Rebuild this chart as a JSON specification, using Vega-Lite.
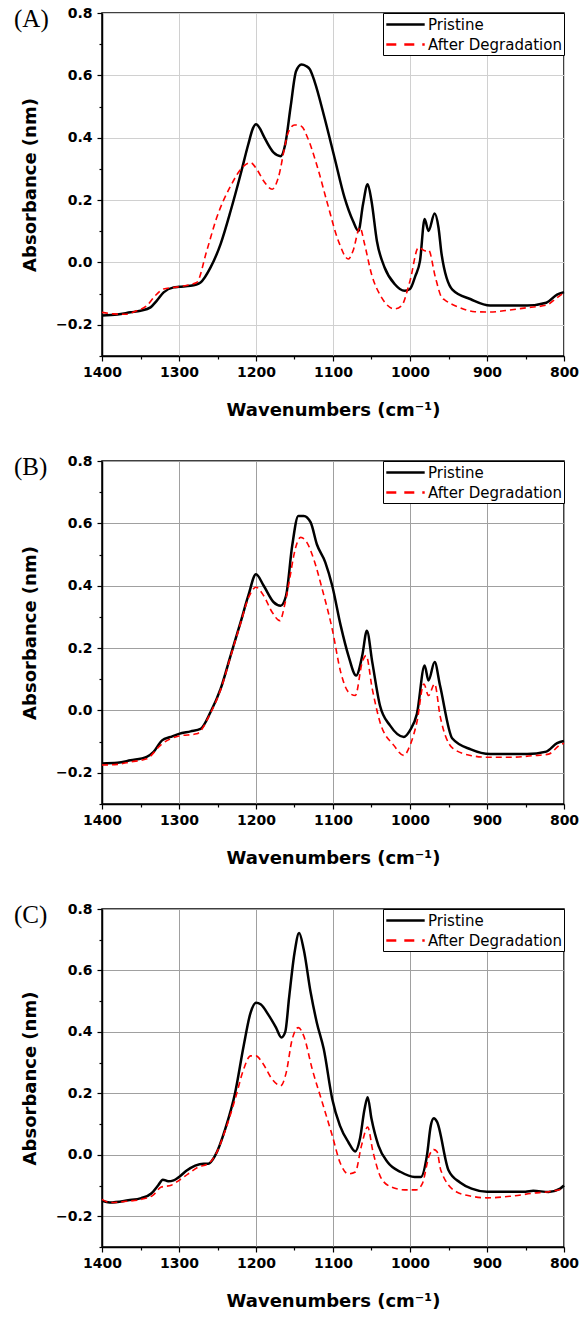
{
  "$schema": "https://vega.github.io/schema/vega-lite/v6.json",
  "background": "white",
  "padding": {"left": 13, "top": 5, "right": 0, "bottom": 0},
  "config": {
    "font": "DejaVu Sans",
    "view": {"stroke": "black", "strokeWidth": 1.5},
    "axis": {
      "labelFont": "DejaVu Sans", "labelFontWeight": "bold", "labelFontSize": 14, "labelColor": "black",
      "titleFont": "DejaVu Sans", "titleFontWeight": "bold", "titleFontSize": 18, "titleColor": "black",
      "domainColor": "black", "domainWidth": 1.5, "tickColor": "black", "tickWidth": 1.2,
      "labelFlush": false, "labelOverlap": false
    },
    "legend": {"labelFont": "DejaVu Sans", "labelFontSize": 15, "labelColor": "black"},
    "concat": {"spacing": 33}
  },
  "datasets": {
    "A": [
      {"series": "Pristine", "wn": 1400, "a": -0.170}, {"series": "Pristine", "wn": 1380, "a": -0.167}, {"series": "Pristine", "wn": 1363, "a": -0.160}, {"series": "Pristine", "wn": 1350, "a": -0.155}, {"series": "Pristine", "wn": 1337, "a": -0.144}, {"series": "Pristine", "wn": 1329, "a": -0.123}, {"series": "Pristine", "wn": 1320, "a": -0.096}, {"series": "Pristine", "wn": 1307, "a": -0.080}, {"series": "Pristine", "wn": 1300, "a": -0.078}, {"series": "Pristine", "wn": 1285, "a": -0.075}, {"series": "Pristine", "wn": 1272, "a": -0.064}, {"series": "Pristine", "wn": 1259, "a": -0.016}, {"series": "Pristine", "wn": 1246, "a": 0.059}, {"series": "Pristine", "wn": 1233, "a": 0.165}, {"series": "Pristine", "wn": 1220, "a": 0.283}, {"series": "Pristine", "wn": 1210, "a": 0.379}, {"series": "Pristine", "wn": 1204, "a": 0.430}, {"series": "Pristine", "wn": 1200, "a": 0.443}, {"series": "Pristine", "wn": 1195, "a": 0.430}, {"series": "Pristine", "wn": 1190, "a": 0.405}, {"series": "Pristine", "wn": 1177, "a": 0.352}, {"series": "Pristine", "wn": 1168, "a": 0.341}, {"series": "Pristine", "wn": 1162, "a": 0.379}, {"series": "Pristine", "wn": 1155, "a": 0.500}, {"series": "Pristine", "wn": 1148, "a": 0.613}, {"series": "Pristine", "wn": 1141, "a": 0.635}, {"series": "Pristine", "wn": 1135, "a": 0.630}, {"series": "Pristine", "wn": 1130, "a": 0.619}, {"series": "Pristine", "wn": 1124, "a": 0.581}, {"series": "Pristine", "wn": 1111, "a": 0.464}, {"series": "Pristine", "wn": 1098, "a": 0.336}, {"series": "Pristine", "wn": 1085, "a": 0.208}, {"series": "Pristine", "wn": 1074, "a": 0.133}, {"series": "Pristine", "wn": 1067, "a": 0.101}, {"series": "Pristine", "wn": 1061, "a": 0.187}, {"series": "Pristine", "wn": 1055, "a": 0.251}, {"series": "Pristine", "wn": 1050, "a": 0.197}, {"series": "Pristine", "wn": 1043, "a": 0.069}, {"series": "Pristine", "wn": 1033, "a": -0.016}, {"series": "Pristine", "wn": 1020, "a": -0.069}, {"series": "Pristine", "wn": 1007, "a": -0.091}, {"series": "Pristine", "wn": 1000, "a": -0.085}, {"series": "Pristine", "wn": 993, "a": -0.043}, {"series": "Pristine", "wn": 987, "a": 0.005}, {"series": "Pristine", "wn": 981, "a": 0.139}, {"series": "Pristine", "wn": 976, "a": 0.101}, {"series": "Pristine", "wn": 968, "a": 0.157}, {"series": "Pristine", "wn": 963, "a": 0.112}, {"series": "Pristine", "wn": 959, "a": 0.027}, {"series": "Pristine", "wn": 945, "a": -0.087}, {"series": "Pristine", "wn": 921, "a": -0.118}, {"series": "Pristine", "wn": 896, "a": -0.138}, {"series": "Pristine", "wn": 848, "a": -0.138}, {"series": "Pristine", "wn": 823, "a": -0.129}, {"series": "Pristine", "wn": 809, "a": -0.103}, {"series": "Pristine", "wn": 800, "a": -0.095},
      {"series": "After Degradation", "wn": 1400, "a": -0.160}, {"series": "After Degradation", "wn": 1385, "a": -0.165}, {"series": "After Degradation", "wn": 1370, "a": -0.166}, {"series": "After Degradation", "wn": 1355, "a": -0.155}, {"series": "After Degradation", "wn": 1342, "a": -0.139}, {"series": "After Degradation", "wn": 1331, "a": -0.107}, {"series": "After Degradation", "wn": 1320, "a": -0.085}, {"series": "After Degradation", "wn": 1300, "a": -0.078}, {"series": "After Degradation", "wn": 1277, "a": -0.064}, {"series": "After Degradation", "wn": 1264, "a": 0.037}, {"series": "After Degradation", "wn": 1251, "a": 0.144}, {"series": "After Degradation", "wn": 1233, "a": 0.245}, {"series": "After Degradation", "wn": 1216, "a": 0.309}, {"series": "After Degradation", "wn": 1207, "a": 0.320}, {"series": "After Degradation", "wn": 1199, "a": 0.299}, {"series": "After Degradation", "wn": 1190, "a": 0.261}, {"series": "After Degradation", "wn": 1179, "a": 0.235}, {"series": "After Degradation", "wn": 1171, "a": 0.272}, {"series": "After Degradation", "wn": 1162, "a": 0.379}, {"series": "After Degradation", "wn": 1159, "a": 0.411}, {"series": "After Degradation", "wn": 1150, "a": 0.441}, {"series": "After Degradation", "wn": 1141, "a": 0.437}, {"series": "After Degradation", "wn": 1133, "a": 0.400}, {"series": "After Degradation", "wn": 1120, "a": 0.304}, {"series": "After Degradation", "wn": 1107, "a": 0.187}, {"series": "After Degradation", "wn": 1093, "a": 0.069}, {"series": "After Degradation", "wn": 1080, "a": 0.011}, {"series": "After Degradation", "wn": 1074, "a": 0.037}, {"series": "After Degradation", "wn": 1065, "a": 0.112}, {"series": "After Degradation", "wn": 1059, "a": 0.059}, {"series": "After Degradation", "wn": 1050, "a": -0.037}, {"series": "After Degradation", "wn": 1037, "a": -0.112}, {"series": "After Degradation", "wn": 1020, "a": -0.149}, {"series": "After Degradation", "wn": 1011, "a": -0.139}, {"series": "After Degradation", "wn": 1000, "a": -0.059}, {"series": "After Degradation", "wn": 989, "a": 0.048}, {"series": "After Degradation", "wn": 980, "a": 0.037}, {"series": "After Degradation", "wn": 976, "a": 0.040}, {"series": "After Degradation", "wn": 967, "a": -0.048}, {"series": "After Degradation", "wn": 959, "a": -0.112}, {"series": "After Degradation", "wn": 955, "a": -0.120}, {"series": "After Degradation", "wn": 935, "a": -0.145}, {"series": "After Degradation", "wn": 916, "a": -0.158}, {"series": "After Degradation", "wn": 896, "a": -0.159}, {"series": "After Degradation", "wn": 872, "a": -0.153}, {"series": "After Degradation", "wn": 848, "a": -0.145}, {"series": "After Degradation", "wn": 823, "a": -0.137}, {"series": "After Degradation", "wn": 809, "a": -0.113}, {"series": "After Degradation", "wn": 800, "a": -0.097}
    ],
    "B": [
      {"series": "Pristine", "wn": 1400, "a": -0.170}, {"series": "Pristine", "wn": 1380, "a": -0.168}, {"series": "Pristine", "wn": 1363, "a": -0.160}, {"series": "Pristine", "wn": 1342, "a": -0.149}, {"series": "Pristine", "wn": 1333, "a": -0.133}, {"series": "Pristine", "wn": 1322, "a": -0.096}, {"series": "Pristine", "wn": 1311, "a": -0.085}, {"series": "Pristine", "wn": 1300, "a": -0.075}, {"series": "Pristine", "wn": 1285, "a": -0.067}, {"series": "Pristine", "wn": 1272, "a": -0.059}, {"series": "Pristine", "wn": 1259, "a": -0.005}, {"series": "Pristine", "wn": 1246, "a": 0.069}, {"series": "Pristine", "wn": 1233, "a": 0.176}, {"series": "Pristine", "wn": 1220, "a": 0.283}, {"series": "Pristine", "wn": 1210, "a": 0.368}, {"series": "Pristine", "wn": 1200, "a": 0.437}, {"series": "Pristine", "wn": 1190, "a": 0.400}, {"series": "Pristine", "wn": 1177, "a": 0.347}, {"series": "Pristine", "wn": 1168, "a": 0.336}, {"series": "Pristine", "wn": 1161, "a": 0.368}, {"series": "Pristine", "wn": 1153, "a": 0.528}, {"series": "Pristine", "wn": 1145, "a": 0.624}, {"series": "Pristine", "wn": 1138, "a": 0.624}, {"series": "Pristine", "wn": 1129, "a": 0.603}, {"series": "Pristine", "wn": 1121, "a": 0.533}, {"series": "Pristine", "wn": 1110, "a": 0.475}, {"series": "Pristine", "wn": 1101, "a": 0.400}, {"series": "Pristine", "wn": 1090, "a": 0.272}, {"series": "Pristine", "wn": 1080, "a": 0.176}, {"series": "Pristine", "wn": 1070, "a": 0.112}, {"series": "Pristine", "wn": 1062, "a": 0.176}, {"series": "Pristine", "wn": 1056, "a": 0.256}, {"series": "Pristine", "wn": 1049, "a": 0.155}, {"series": "Pristine", "wn": 1039, "a": 0.016}, {"series": "Pristine", "wn": 1026, "a": -0.048}, {"series": "Pristine", "wn": 1008, "a": -0.085}, {"series": "Pristine", "wn": 1000, "a": -0.064}, {"series": "Pristine", "wn": 991, "a": -0.011}, {"series": "Pristine", "wn": 981, "a": 0.144}, {"series": "Pristine", "wn": 976, "a": 0.096}, {"series": "Pristine", "wn": 968, "a": 0.155}, {"series": "Pristine", "wn": 961, "a": 0.080}, {"series": "Pristine", "wn": 945, "a": -0.090}, {"series": "Pristine", "wn": 921, "a": -0.125}, {"series": "Pristine", "wn": 896, "a": -0.140}, {"series": "Pristine", "wn": 848, "a": -0.140}, {"series": "Pristine", "wn": 823, "a": -0.132}, {"series": "Pristine", "wn": 809, "a": -0.105}, {"series": "Pristine", "wn": 800, "a": -0.098},
      {"series": "After Degradation", "wn": 1400, "a": -0.175}, {"series": "After Degradation", "wn": 1380, "a": -0.173}, {"series": "After Degradation", "wn": 1363, "a": -0.165}, {"series": "After Degradation", "wn": 1342, "a": -0.155}, {"series": "After Degradation", "wn": 1322, "a": -0.107}, {"series": "After Degradation", "wn": 1300, "a": -0.082}, {"series": "After Degradation", "wn": 1277, "a": -0.075}, {"series": "After Degradation", "wn": 1259, "a": -0.008}, {"series": "After Degradation", "wn": 1246, "a": 0.066}, {"series": "After Degradation", "wn": 1233, "a": 0.173}, {"series": "After Degradation", "wn": 1220, "a": 0.280}, {"series": "After Degradation", "wn": 1210, "a": 0.360}, {"series": "After Degradation", "wn": 1200, "a": 0.395}, {"series": "After Degradation", "wn": 1190, "a": 0.368}, {"series": "After Degradation", "wn": 1179, "a": 0.315}, {"series": "After Degradation", "wn": 1169, "a": 0.288}, {"series": "After Degradation", "wn": 1162, "a": 0.347}, {"series": "After Degradation", "wn": 1155, "a": 0.440}, {"series": "After Degradation", "wn": 1151, "a": 0.496}, {"series": "After Degradation", "wn": 1142, "a": 0.555}, {"series": "After Degradation", "wn": 1134, "a": 0.539}, {"series": "After Degradation", "wn": 1125, "a": 0.485}, {"series": "After Degradation", "wn": 1114, "a": 0.389}, {"series": "After Degradation", "wn": 1101, "a": 0.261}, {"series": "After Degradation", "wn": 1090, "a": 0.123}, {"series": "After Degradation", "wn": 1080, "a": 0.059}, {"series": "After Degradation", "wn": 1071, "a": 0.048}, {"series": "After Degradation", "wn": 1062, "a": 0.155}, {"series": "After Degradation", "wn": 1057, "a": 0.176}, {"series": "After Degradation", "wn": 1049, "a": 0.069}, {"series": "After Degradation", "wn": 1039, "a": -0.037}, {"series": "After Degradation", "wn": 1021, "a": -0.112}, {"series": "After Degradation", "wn": 1008, "a": -0.144}, {"series": "After Degradation", "wn": 1000, "a": -0.112}, {"series": "After Degradation", "wn": 991, "a": -0.037}, {"series": "After Degradation", "wn": 982, "a": 0.085}, {"series": "After Degradation", "wn": 976, "a": 0.048}, {"series": "After Degradation", "wn": 968, "a": 0.085}, {"series": "After Degradation", "wn": 961, "a": -0.016}, {"series": "After Degradation", "wn": 945, "a": -0.120}, {"series": "After Degradation", "wn": 920, "a": -0.145}, {"series": "After Degradation", "wn": 900, "a": -0.150}, {"series": "After Degradation", "wn": 870, "a": -0.150}, {"series": "After Degradation", "wn": 840, "a": -0.145}, {"series": "After Degradation", "wn": 820, "a": -0.140}, {"series": "After Degradation", "wn": 805, "a": -0.110}, {"series": "After Degradation", "wn": 800, "a": -0.105}
    ],
    "C": [
      {"series": "Pristine", "wn": 1400, "a": -0.150}, {"series": "Pristine", "wn": 1390, "a": -0.155}, {"series": "Pristine", "wn": 1366, "a": -0.148}, {"series": "Pristine", "wn": 1349, "a": -0.141}, {"series": "Pristine", "wn": 1336, "a": -0.126}, {"series": "Pristine", "wn": 1327, "a": -0.099}, {"series": "Pristine", "wn": 1321, "a": -0.081}, {"series": "Pristine", "wn": 1314, "a": -0.086}, {"series": "Pristine", "wn": 1307, "a": -0.083}, {"series": "Pristine", "wn": 1300, "a": -0.072}, {"series": "Pristine", "wn": 1290, "a": -0.051}, {"series": "Pristine", "wn": 1279, "a": -0.035}, {"series": "Pristine", "wn": 1268, "a": -0.029}, {"series": "Pristine", "wn": 1262, "a": -0.029}, {"series": "Pristine", "wn": 1253, "a": -0.002}, {"series": "Pristine", "wn": 1240, "a": 0.084}, {"series": "Pristine", "wn": 1227, "a": 0.203}, {"series": "Pristine", "wn": 1216, "a": 0.355}, {"series": "Pristine", "wn": 1207, "a": 0.463}, {"series": "Pristine", "wn": 1200, "a": 0.495}, {"series": "Pristine", "wn": 1194, "a": 0.490}, {"series": "Pristine", "wn": 1183, "a": 0.452}, {"series": "Pristine", "wn": 1174, "a": 0.414}, {"series": "Pristine", "wn": 1167, "a": 0.382}, {"series": "Pristine", "wn": 1162, "a": 0.400}, {"series": "Pristine", "wn": 1157, "a": 0.512}, {"series": "Pristine", "wn": 1150, "a": 0.657}, {"series": "Pristine", "wn": 1144, "a": 0.722}, {"series": "Pristine", "wn": 1138, "a": 0.668}, {"series": "Pristine", "wn": 1129, "a": 0.528}, {"series": "Pristine", "wn": 1121, "a": 0.430}, {"series": "Pristine", "wn": 1112, "a": 0.344}, {"series": "Pristine", "wn": 1101, "a": 0.182}, {"series": "Pristine", "wn": 1091, "a": 0.095}, {"series": "Pristine", "wn": 1080, "a": 0.041}, {"series": "Pristine", "wn": 1071, "a": 0.011}, {"series": "Pristine", "wn": 1065, "a": 0.052}, {"series": "Pristine", "wn": 1059, "a": 0.149}, {"series": "Pristine", "wn": 1055, "a": 0.187}, {"series": "Pristine", "wn": 1050, "a": 0.117}, {"series": "Pristine", "wn": 1041, "a": 0.030}, {"series": "Pristine", "wn": 1029, "a": -0.024}, {"series": "Pristine", "wn": 1012, "a": -0.056}, {"series": "Pristine", "wn": 994, "a": -0.072}, {"series": "Pristine", "wn": 986, "a": -0.072}, {"series": "Pristine", "wn": 978, "a": -0.002}, {"series": "Pristine", "wn": 973, "a": 0.095}, {"series": "Pristine", "wn": 969, "a": 0.119}, {"series": "Pristine", "wn": 965, "a": 0.108}, {"series": "Pristine", "wn": 950, "a": -0.050}, {"series": "Pristine", "wn": 935, "a": -0.090}, {"series": "Pristine", "wn": 920, "a": -0.110}, {"series": "Pristine", "wn": 900, "a": -0.120}, {"series": "Pristine", "wn": 850, "a": -0.120}, {"series": "Pristine", "wn": 840, "a": -0.117}, {"series": "Pristine", "wn": 820, "a": -0.121}, {"series": "Pristine", "wn": 805, "a": -0.110}, {"series": "Pristine", "wn": 800, "a": -0.100},
      {"series": "After Degradation", "wn": 1400, "a": -0.145}, {"series": "After Degradation", "wn": 1390, "a": -0.155}, {"series": "After Degradation", "wn": 1366, "a": -0.151}, {"series": "After Degradation", "wn": 1349, "a": -0.145}, {"series": "After Degradation", "wn": 1334, "a": -0.132}, {"series": "After Degradation", "wn": 1323, "a": -0.105}, {"series": "After Degradation", "wn": 1310, "a": -0.099}, {"series": "After Degradation", "wn": 1300, "a": -0.083}, {"series": "After Degradation", "wn": 1288, "a": -0.062}, {"series": "After Degradation", "wn": 1275, "a": -0.040}, {"series": "After Degradation", "wn": 1262, "a": -0.029}, {"series": "After Degradation", "wn": 1253, "a": -0.002}, {"series": "After Degradation", "wn": 1240, "a": 0.079}, {"series": "After Degradation", "wn": 1227, "a": 0.182}, {"series": "After Degradation", "wn": 1216, "a": 0.279}, {"series": "After Degradation", "wn": 1207, "a": 0.322}, {"series": "After Degradation", "wn": 1200, "a": 0.322}, {"series": "After Degradation", "wn": 1192, "a": 0.301}, {"series": "After Degradation", "wn": 1179, "a": 0.246}, {"series": "After Degradation", "wn": 1168, "a": 0.225}, {"series": "After Degradation", "wn": 1161, "a": 0.265}, {"series": "After Degradation", "wn": 1153, "a": 0.376}, {"series": "After Degradation", "wn": 1145, "a": 0.414}, {"series": "After Degradation", "wn": 1138, "a": 0.387}, {"series": "After Degradation", "wn": 1127, "a": 0.279}, {"series": "After Degradation", "wn": 1114, "a": 0.171}, {"series": "After Degradation", "wn": 1101, "a": 0.063}, {"series": "After Degradation", "wn": 1091, "a": -0.024}, {"series": "After Degradation", "wn": 1080, "a": -0.062}, {"series": "After Degradation", "wn": 1071, "a": -0.056}, {"series": "After Degradation", "wn": 1063, "a": 0.030}, {"series": "After Degradation", "wn": 1055, "a": 0.090}, {"series": "After Degradation", "wn": 1048, "a": 0.009}, {"series": "After Degradation", "wn": 1037, "a": -0.078}, {"series": "After Degradation", "wn": 1024, "a": -0.105}, {"series": "After Degradation", "wn": 1007, "a": -0.114}, {"series": "After Degradation", "wn": 992, "a": -0.114}, {"series": "After Degradation", "wn": 984, "a": -0.094}, {"series": "After Degradation", "wn": 975, "a": -0.002}, {"series": "After Degradation", "wn": 969, "a": 0.017}, {"series": "After Degradation", "wn": 965, "a": 0.011}, {"series": "After Degradation", "wn": 960, "a": -0.050}, {"series": "After Degradation", "wn": 940, "a": -0.120}, {"series": "After Degradation", "wn": 920, "a": -0.135}, {"series": "After Degradation", "wn": 900, "a": -0.140}, {"series": "After Degradation", "wn": 870, "a": -0.135}, {"series": "After Degradation", "wn": 840, "a": -0.125}, {"series": "After Degradation", "wn": 820, "a": -0.120}, {"series": "After Degradation", "wn": 800, "a": -0.110}
    ]
  },
  "vconcat": [
    {
      "data": {"name": "A"},
      "width": 462, "height": 343,
      "title": {"text": "(A)", "anchor": "start", "frame": "group", "font": "Liberation Serif", "fontWeight": "normal", "fontSize": 25, "color": "black", "baseline": "top", "dx": -88, "dy": 30},
      "encoding": {
        "x": {"field": "wn", "type": "quantitative", "title": "Wavenumbers (cm⁻¹)",
          "scale": {"domain": [800, 1400], "reverse": true, "nice": false, "zero": false},
          "axis": {"values": [800, 850, 900, 950, 1000, 1050, 1100, 1150, 1200, 1250, 1300, 1350, 1400],
            "labelExpr": "datum.value % 100 == 0 ? format(datum.value, 'd') : ''",
            "tickSize": {"condition": {"test": "datum.value % 100 == 0", "value": 5}, "value": 3},
            "gridOpacity": {"condition": {"test": "datum.value % 100 == 0", "value": 1}, "value": 0},
            "gridColor": "#d0d0d0", "labelPadding": 4, "titlePadding": 22}},
        "y": {"field": "a", "type": "quantitative", "title": "Absorbance (nm)",
          "scale": {"domain": [-0.3, 0.8], "nice": false, "zero": false},
          "axis": {"values": [-0.3, -0.2, -0.1, 0, 0.1, 0.2, 0.3, 0.4, 0.5, 0.6, 0.7, 0.8],
            "labelExpr": "abs(round(datum.value*10)) % 2 == 0 ? format(datum.value, '.1f') : ''",
            "tickSize": {"condition": {"test": "abs(round(datum.value*10)) % 2 == 0", "value": 5}, "value": 3},
            "gridOpacity": {"condition": {"test": "abs(round(datum.value*10)) % 2 == 0", "value": 1}, "value": 0},
            "gridColor": "#d0d0d0", "labelPadding": 5, "titlePadding": 16}},
        "color": {"field": "series", "type": "nominal",
          "scale": {"domain": ["Pristine", "After Degradation"], "range": ["#000000", "#ff0000"]},
          "legend": {"orient": "top-right", "title": null, "offset": 0, "strokeColor": "black", "fillColor": "white", "padding": 2, "rowPadding": 2, "labelOffset": 13, "symbolOffset": 11, "symbolSize": 256, "symbolType": "M-2.4,0H2.4",
            "encode": {"symbols": {"update": {"strokeDash": [{"test": "datum.value === 'After Degradation'", "value": [10, 8]}, {"value": [1, 0]}], "strokeWidth": {"value": 2.5}}}}}}
      },
      "layer": [
        {"transform": [{"filter": "datum.series == 'Pristine'"}], "mark": {"type": "line", "interpolate": "monotone", "strokeWidth": 2.5}},
        {"transform": [{"filter": "datum.series == 'After Degradation'"}], "mark": {"type": "line", "interpolate": "monotone", "strokeWidth": 1.6, "strokeDash": [6, 4]}}
      ]
    },
    {
      "data": {"name": "B"},
      "width": 462, "height": 343,
      "title": {"text": "(B)", "anchor": "start", "frame": "group", "font": "Liberation Serif", "fontWeight": "normal", "fontSize": 25, "color": "black", "baseline": "top", "dx": -88, "dy": 30},
      "encoding": {
        "x": {"field": "wn", "type": "quantitative", "title": "Wavenumbers (cm⁻¹)",
          "scale": {"domain": [800, 1400], "reverse": true, "nice": false, "zero": false},
          "axis": {"values": [800, 850, 900, 950, 1000, 1050, 1100, 1150, 1200, 1250, 1300, 1350, 1400],
            "labelExpr": "datum.value % 100 == 0 ? format(datum.value, 'd') : ''",
            "tickSize": {"condition": {"test": "datum.value % 100 == 0", "value": 5}, "value": 3},
            "gridOpacity": {"condition": {"test": "datum.value % 100 == 0", "value": 1}, "value": 0},
            "gridColor": "#a0a0a0", "labelPadding": 4, "titlePadding": 22}},
        "y": {"field": "a", "type": "quantitative", "title": "Absorbance (nm)",
          "scale": {"domain": [-0.3, 0.8], "nice": false, "zero": false},
          "axis": {"values": [-0.3, -0.2, -0.1, 0, 0.1, 0.2, 0.3, 0.4, 0.5, 0.6, 0.7, 0.8],
            "labelExpr": "abs(round(datum.value*10)) % 2 == 0 ? format(datum.value, '.1f') : ''",
            "tickSize": {"condition": {"test": "abs(round(datum.value*10)) % 2 == 0", "value": 5}, "value": 3},
            "gridOpacity": {"condition": {"test": "abs(round(datum.value*10)) % 2 == 0", "value": 1}, "value": 0},
            "gridColor": "#a0a0a0", "labelPadding": 5, "titlePadding": 16}},
        "color": {"field": "series", "type": "nominal",
          "scale": {"domain": ["Pristine", "After Degradation"], "range": ["#000000", "#ff0000"]},
          "legend": {"orient": "top-right", "title": null, "offset": 0, "strokeColor": "black", "fillColor": "white", "padding": 2, "rowPadding": 2, "labelOffset": 13, "symbolOffset": 11, "symbolSize": 256, "symbolType": "M-2.4,0H2.4",
            "encode": {"symbols": {"update": {"strokeDash": [{"test": "datum.value === 'After Degradation'", "value": [10, 8]}, {"value": [1, 0]}], "strokeWidth": {"value": 2.5}}}}}}
      },
      "layer": [
        {"transform": [{"filter": "datum.series == 'Pristine'"}], "mark": {"type": "line", "interpolate": "monotone", "strokeWidth": 2.5}},
        {"transform": [{"filter": "datum.series == 'After Degradation'"}], "mark": {"type": "line", "interpolate": "monotone", "strokeWidth": 1.6, "strokeDash": [6, 4]}}
      ]
    },
    {
      "data": {"name": "C"},
      "width": 462, "height": 338,
      "title": {"text": "(C)", "anchor": "start", "frame": "group", "font": "Liberation Serif", "fontWeight": "normal", "fontSize": 25, "color": "black", "baseline": "top", "dx": -88, "dy": 30},
      "encoding": {
        "x": {"field": "wn", "type": "quantitative", "title": "Wavenumbers (cm⁻¹)",
          "scale": {"domain": [800, 1400], "reverse": true, "nice": false, "zero": false},
          "axis": {"values": [800, 850, 900, 950, 1000, 1050, 1100, 1150, 1200, 1250, 1300, 1350, 1400],
            "labelExpr": "datum.value % 100 == 0 ? format(datum.value, 'd') : ''",
            "tickSize": {"condition": {"test": "datum.value % 100 == 0", "value": 5}, "value": 3},
            "gridOpacity": {"condition": {"test": "datum.value % 100 == 0", "value": 1}, "value": 0},
            "gridColor": "#a0a0a0", "labelPadding": 4, "titlePadding": 22}},
        "y": {"field": "a", "type": "quantitative", "title": "Absorbance (nm)",
          "scale": {"domain": [-0.3, 0.8], "nice": false, "zero": false},
          "axis": {"values": [-0.3, -0.2, -0.1, 0, 0.1, 0.2, 0.3, 0.4, 0.5, 0.6, 0.7, 0.8],
            "labelExpr": "abs(round(datum.value*10)) % 2 == 0 ? format(datum.value, '.1f') : ''",
            "tickSize": {"condition": {"test": "abs(round(datum.value*10)) % 2 == 0", "value": 5}, "value": 3},
            "gridOpacity": {"condition": {"test": "abs(round(datum.value*10)) % 2 == 0", "value": 1}, "value": 0},
            "gridColor": "#a0a0a0", "labelPadding": 5, "titlePadding": 16}},
        "color": {"field": "series", "type": "nominal",
          "scale": {"domain": ["Pristine", "After Degradation"], "range": ["#000000", "#ff0000"]},
          "legend": {"orient": "top-right", "title": null, "offset": 0, "strokeColor": "black", "fillColor": "white", "padding": 2, "rowPadding": 2, "labelOffset": 13, "symbolOffset": 11, "symbolSize": 256, "symbolType": "M-2.4,0H2.4",
            "encode": {"symbols": {"update": {"strokeDash": [{"test": "datum.value === 'After Degradation'", "value": [10, 8]}, {"value": [1, 0]}], "strokeWidth": {"value": 2.5}}}}}}
      },
      "layer": [
        {"transform": [{"filter": "datum.series == 'Pristine'"}], "mark": {"type": "line", "interpolate": "monotone", "strokeWidth": 2.5}},
        {"transform": [{"filter": "datum.series == 'After Degradation'"}], "mark": {"type": "line", "interpolate": "monotone", "strokeWidth": 1.6, "strokeDash": [6, 4]}}
      ]
    }
  ],
  "resolve": {"scale": {"color": "independent"}}
}
